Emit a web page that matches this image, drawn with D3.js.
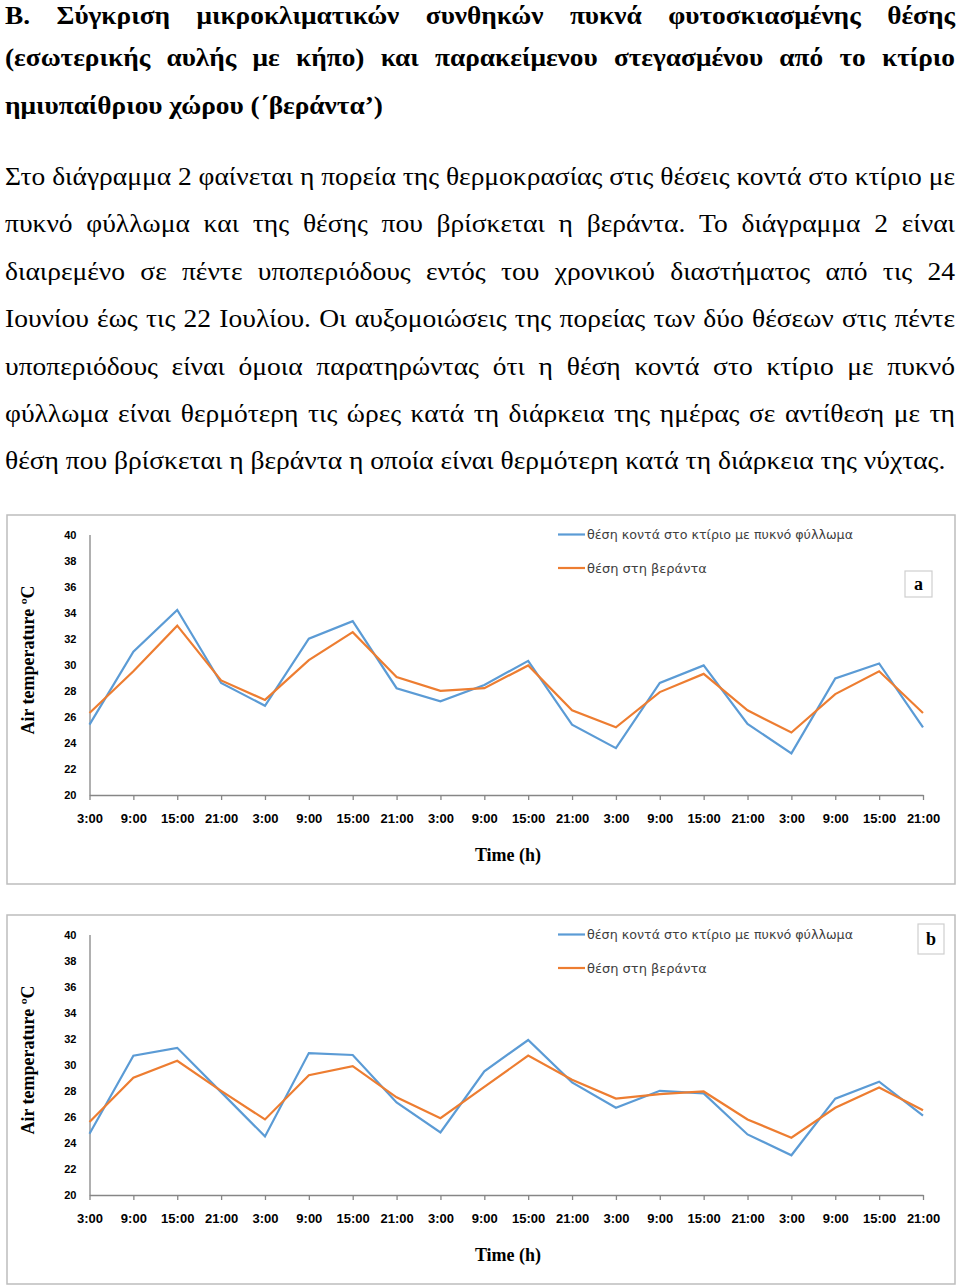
<!DOCTYPE html>
<html>
<head>
<meta charset="utf-8">
<script src="https://cdn.jsdelivr.net/npm/d3@7/dist/d3.min.js"></script>
<style>
  html, body { margin: 0; padding: 0; background: #fff; }
  .head { font-family: "Liberation Serif", "Times New Roman", serif; font-weight: bold; font-size: 25.5px; fill: #000; }
  .body { font-family: "Liberation Serif", "Times New Roman", serif; font-size: 26px; fill: #000; }
  .tick text { font-family: "Liberation Sans", sans-serif; font-weight: bold; fill: #000; }
  .axis-title { font-family: "Liberation Serif", serif; font-weight: bold; font-size: 18px; fill: #000; }
  .legend text { font-family: "DejaVu Sans", sans-serif; font-size: 13px; fill: #404040; }
</style>
</head>
<body>
<script>
// text lines, as broken in the page
var headingLines = [
    "B. Σύγκριση μικροκλιματικών συνθηκών πυκνά φυτοσκιασμένης θέσης",
    "(εσωτερικής αυλής με κήπο) και παρακείμενου στεγασμένου από το κτίριο",
    "ημιυπαίθριου χώρου (΄βεράντα’)"
];
var bodyLines = [
    "Στο διάγραμμα 2 φαίνεται η πορεία της θερμοκρασίας στις θέσεις κοντά στο κτίριο με",
    "πυκνό φύλλωμα και της θέσης που βρίσκεται η βεράντα. Το διάγραμμα 2 είναι",
    "διαιρεμένο σε πέντε υποπεριόδους εντός του χρονικού διαστήματος από τις 24",
    "Ιουνίου έως τις 22 Ιουλίου. Οι αυξομοιώσεις της πορείας των δύο θέσεων στις πέντε",
    "υποπεριόδους είναι όμοια παρατηρώντας ότι η θέση κοντά στο κτίριο με πυκνό",
    "φύλλωμα είναι θερμότερη τις ώρες κατά τη διάρκεια της ημέρας σε αντίθεση με τη",
    "θέση που βρίσκεται η βεράντα η οποία είναι θερμότερη κατά τη διάρκεια της νύχτας."
];

// chart data
var timeLabels = ["3:00", "9:00", "15:00", "21:00", "3:00", "9:00", "15:00", "21:00", "3:00", "9:00",
                  "15:00", "21:00", "3:00", "9:00", "15:00", "21:00", "3:00", "9:00", "15:00", "21:00"];
var yTicks = [20, 22, 24, 26, 28, 30, 32, 34, 36, 38, 40];
var seriesNames = ["θέση κοντά στο κτίριο με πυκνό φύλλωμα", "θέση στη βεράντα"];
var seriesColors = ["#5b9bd5", "#ed7d31"];

var aDense   = [25.4, 31.0, 34.2, 28.6, 26.85, 32.0, 33.35, 28.2, 27.2, 28.45, 30.3, 25.4, 23.6, 28.6, 29.95, 25.45, 23.2, 28.95, 30.1, 25.2];
var aVeranda = [26.3, 29.5, 33.0, 28.8, 27.3, 30.35, 32.5, 29.05, 28.0, 28.2, 29.95, 26.5, 25.2, 27.9, 29.3, 26.5, 24.8, 27.75, 29.5, 26.3];
var bDense   = [24.7, 30.7, 31.3, 27.9, 24.5, 30.9, 30.75, 27.1, 24.8, 29.5, 31.9, 28.65, 26.7, 28.0, 27.8, 24.65, 23.05, 27.4, 28.7, 26.1];
var bVeranda = [25.6, 29.0, 30.3, 28.0, 25.8, 29.2, 29.9, 27.5, 25.9, 28.3, 30.7, 28.85, 27.4, 27.75, 27.95, 25.8, 24.4, 26.7, 28.25, 26.5];

var W = 960, H = 1286;
var svg = d3.select("body").append("svg").attr("width", W).attr("height", H);

function naturalWidth(str, cls) {
    var t = svg.append("text").attr("class", cls).text(str);
    var w = t.node().getComputedTextLength();
    t.remove();
    return w;
}

// writes one line, stretched by sx, spreading words to fill the width when justified
function drawLine(parent, str, x, y, target, justify, cls, sx) {
    var g = parent.append("g").attr("transform", "translate(" + x + "," + y + ") scale(" + sx + ",1)");
    var t = g.append("text").attr("class", cls).attr("x", 0).attr("y", 0).text(str);
    var inner = target / sx;
    var w = t.node().getComputedTextLength();
    if (!justify || w >= inner) {
        if (Math.abs(w - inner) > 1) {
            t.attr("textLength", inner).attr("lengthAdjust", "spacingAndGlyphs");
        }
        return;
    }
    var words = str.split(" ");
    t.text(null);
    var spans = words.map(function(wd) { return t.append("tspan").text(wd); });
    var widths = spans.map(function(s) { return s.node().getComputedTextLength(); });
    var gap = (inner - d3.sum(widths)) / (words.length - 1);
    var cx = 0;
    spans.forEach(function(s, i) {
        s.attr("x", cx);
        cx += widths[i] + gap;
    });
}

var textG = svg.append("g");
var lineStep = 47.4;
// last lines of each paragraph set the horizontal stretch of the page font
var sxHead = 378 / naturalWidth(headingLines[2], "head");
var sxBody = 941 / naturalWidth(bodyLines[6], "body");

headingLines.forEach(function(l, i) {
    var last = i === headingLines.length - 1;
    var by = i === 0 ? 23.5 : 19 + i * lineStep;
    drawLine(textG, l, 5, by, last ? 378 : 950, !last, "head", sxHead);
});
bodyLines.forEach(function(l, i) {
    var last = i === bodyLines.length - 1;
    drawLine(textG, l, 5, 185 + i * lineStep, last ? 941 : 950, !last, "body", sxBody);
});

function drawChart(top, dense, veranda, tag, tagBox) {
    var g = svg.append("g").attr("transform", "translate(0," + top + ")");

    g.append("rect")
        .attr("x", 7).attr("y", 0).attr("width", 948).attr("height", 369)
        .attr("fill", "#fff").attr("stroke", "#bdbdbd").attr("stroke-width", 1.5);

    var x = d3.scalePoint().domain(d3.range(timeLabels.length)).range([89.5, 923]);
    var y = d3.scaleLinear().domain([20, 40]).range([280, 19.5]);

    var xAxis = g.append("g")
        .attr("transform", "translate(0," + y(20) + ")")
        .call(d3.axisBottom(x).tickSizeInner(5).tickSizeOuter(0).tickPadding(14)
            .tickFormat(function(i) { return timeLabels[i]; }));
    xAxis.selectAll(".tick text").style("font-size", "13px");

    var yAxis = g.append("g")
        .attr("transform", "translate(" + x(0) + ",0)")
        .call(d3.axisLeft(y).tickValues(yTicks).tickSize(0).tickPadding(13));
    yAxis.selectAll(".tick text").style("font-size", "11px");

    g.selectAll(".domain, .tick line").attr("stroke", "#868686").attr("stroke-width", 1.3);

    var line = d3.line()
        .x(function(d, i) { return x(i); })
        .y(function(d) { return y(d); });

    [dense, veranda].forEach(function(s, k) {
        g.append("path")
            .datum(s)
            .attr("d", line)
            .attr("fill", "none")
            .attr("stroke", seriesColors[k])
            .attr("stroke-width", 2.2)
            .attr("stroke-linejoin", "miter");
    });

    g.append("text")
        .attr("class", "axis-title")
        .attr("text-anchor", "middle")
        .attr("transform", "translate(34," + 145 + ") rotate(-90)")
        .text("Air temperature ºC");

    g.append("text")
        .attr("class", "axis-title")
        .attr("text-anchor", "middle")
        .attr("x", 508).attr("y", 346)
        .text("Time (h)");

    var legend = g.append("g").attr("class", "legend");
    seriesNames.forEach(function(n, k) {
        var ly = 19.5 + k * 33.5;
        legend.append("line")
            .attr("x1", 558).attr("x2", 585).attr("y1", ly).attr("y2", ly)
            .attr("stroke", seriesColors[k]).attr("stroke-width", 2.2);
        var t = legend.append("text").attr("x", 587).attr("y", ly + 4.5).text(n);
        if (k === 0) t.attr("textLength", 266).attr("lengthAdjust", "spacingAndGlyphs");
    });

    g.append("rect")
        .attr("x", tagBox[0]).attr("y", tagBox[1]).attr("width", tagBox[2]).attr("height", tagBox[3])
        .attr("fill", "#fff").attr("stroke", "#cfcfcf").attr("stroke-width", 1.2);
    g.append("text")
        .attr("class", "axis-title")
        .attr("text-anchor", "middle")
        .attr("x", tagBox[0] + tagBox[2] / 2)
        .attr("y", tagBox[1] + tagBox[3] / 2 + 6)
        .text(tag);
}

drawChart(515, aDense, aVeranda, "a", [905, 56, 27, 26]);
drawChart(915, bDense, bVeranda, "b", [918, 9, 26, 30]);
</script>
</body>
</html>
